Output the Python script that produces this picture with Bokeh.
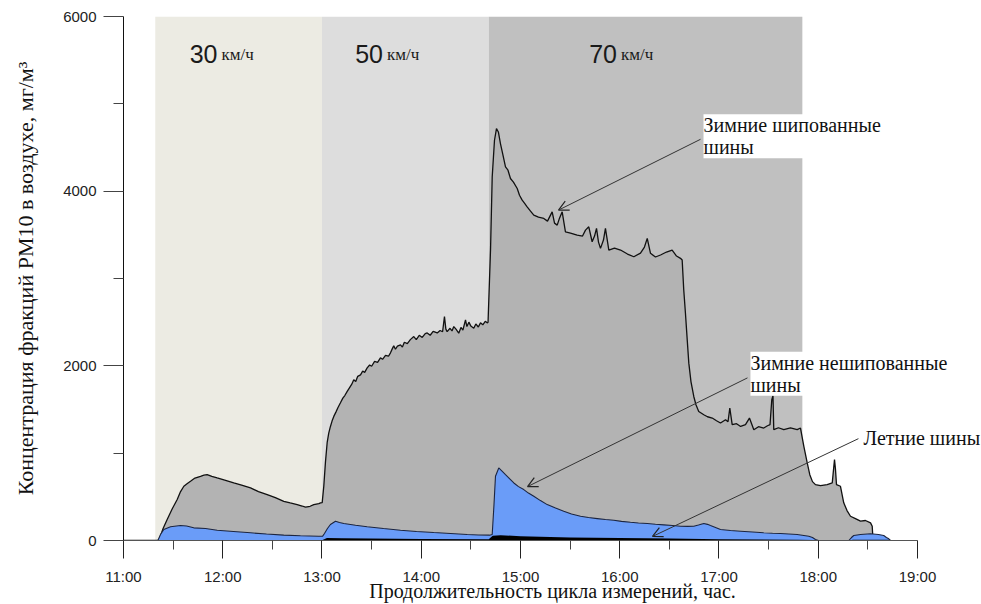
from bokeh.plotting import figure
from bokeh.models import (Range1d, FixedTicker, Label, Arrow, OpenHead, ColumnDataSource)
from bokeh.embed import file_html
from bokeh.resources import INLINE

# ---------------- data (time in decimal hours, concentration) ----------------
stud_t = [11.0, 11.356, 11.40, 11.440, 11.49, 11.541, 11.575, 11.608, 11.64, 11.675, 11.72, 11.776,
          11.81, 11.843, 11.89, 11.944, 12.02, 12.111, 12.19, 12.280, 12.36, 12.448, 12.53, 12.615,
          12.68, 12.750, 12.80, 12.834, 12.88, 12.917, 12.968, 12.985,
          13.002, 13.018, 13.035, 13.052, 13.068, 13.085, 13.102, 13.119, 13.14, 13.16, 13.186,
          13.21, 13.23, 13.254, 13.275, 13.30, 13.320, 13.34, 13.36, 13.388, 13.41, 13.43, 13.455,
          13.48, 13.50, 13.53, 13.56, 13.589, 13.61, 13.64, 13.67, 13.690, 13.71, 13.723, 13.74,
          13.76, 13.791, 13.81, 13.83, 13.86, 13.89, 13.925, 13.95, 13.98, 14.01, 14.04, 14.060,
          14.09, 14.12, 14.161, 14.19, 14.215, 14.234, 14.248, 14.261, 14.29, 14.31, 14.328, 14.35,
          14.378, 14.40, 14.42, 14.446, 14.46, 14.48, 14.50, 14.529, 14.55, 14.575, 14.597, 14.62,
          14.645, 14.664, 14.673,
          14.698, 14.715, 14.738, 14.758, 14.778, 14.798, 14.824, 14.849, 14.874, 14.899, 14.929,
          14.967, 14.990, 15.017, 15.040, 15.067, 15.101, 15.134, 15.181, 15.235, 15.272, 15.319,
          15.343, 15.370, 15.393, 15.420, 15.453, 15.504, 15.571, 15.625, 15.655, 15.688, 15.722,
          15.746, 15.766, 15.786, 15.806, 15.836, 15.856, 15.890, 15.947, 16.008, 16.078, 16.142,
          16.209, 16.249, 16.277, 16.310, 16.360, 16.411, 16.471, 16.528, 16.572, 16.612, 16.629,
          16.645, 16.662, 16.680, 16.696, 16.718, 16.746, 16.768, 16.796, 16.847, 16.884, 16.932,
          16.975, 17.015, 17.066, 17.091, 17.109, 17.133, 17.177, 17.218, 17.267, 17.307, 17.351,
          17.398, 17.451, 17.489, 17.514, 17.532, 17.544, 17.552, 17.599, 17.653, 17.720, 17.788,
          17.821, 17.855, 17.889, 17.915, 17.942, 17.972, 18.023, 18.090, 18.141, 18.154, 18.164,
          18.174, 18.184, 18.224, 18.257, 18.290, 18.325, 18.375, 18.426, 18.476, 18.527, 18.544,
          18.552]
stud_v = [0, 0, 140, 240, 360, 469, 560, 621, 650, 678, 715, 735,
          748, 754, 735, 716, 690, 659, 635, 602, 560, 526, 490, 449,
          430, 411, 395, 381, 392, 411, 423, 431,
          434, 621, 900, 1120, 1230, 1306, 1370, 1421, 1470, 1520, 1577,
          1630, 1660, 1707, 1745, 1790, 1840, 1820, 1880, 1897, 1940, 1925, 1977,
          2010, 1995, 2050, 2040, 2092, 2075, 2120, 2110, 2149, 2200, 2229, 2190,
          2225, 2240, 2215, 2270, 2255, 2300, 2335, 2300, 2350, 2325, 2370, 2377,
          2350, 2395, 2377, 2405, 2390, 2564, 2420, 2392, 2430, 2400, 2449, 2420,
          2374, 2440, 2410, 2526, 2450, 2500, 2455, 2431, 2480, 2445, 2492, 2470,
          2510, 2492, 2500,
          3326, 4163, 4583, 4717, 4674, 4545, 4411, 4278, 4240, 4145, 4103,
          4031, 3954, 3897, 3863, 3821, 3771, 3726, 3703, 3688, 3657, 3763,
          3634, 3611, 3691, 3763, 3535, 3520, 3497, 3486, 3554, 3592, 3421,
          3486, 3574, 3417, 3345, 3440, 3574, 3326, 3349, 3326, 3280, 3249,
          3291, 3360, 3459, 3288, 3246, 3269, 3303, 3326, 3257, 3231, 3211,
          2869, 2602, 2297, 2031, 1817, 1649, 1554, 1478, 1440, 1417, 1402,
          1371, 1345, 1383, 1360, 1517, 1326, 1337, 1306, 1326, 1402, 1269,
          1303, 1288, 1314, 1326, 1611, 1657, 1269, 1291, 1269, 1291, 1269,
          1288, 1078, 888, 754, 674, 640, 629, 640, 659, 811, 926,
          811, 640, 621, 431, 343, 278, 251, 221, 229, 202, 163,
          0]

nonstud_t = [11.0, 11.346, 11.373, 11.406, 11.474, 11.574, 11.635, 11.708, 11.826, 11.944, 12.108,
             12.280, 12.441, 12.615, 12.783, 12.965, 13.005, 13.025, 13.055, 13.085, 13.136, 13.176,
             13.220, 13.338, 13.455, 13.620, 13.791, 13.952, 14.126, 14.295, 14.463, 14.577, 14.688,
             14.715, 14.733, 14.748, 14.781, 14.809, 14.849, 14.889, 14.933, 14.980, 15.033, 15.080,
             15.134, 15.201, 15.269, 15.353, 15.436, 15.514, 15.605, 15.685, 15.773, 15.856, 15.940,
             16.018, 16.108, 16.189, 16.277, 16.360, 16.444, 16.532, 16.612, 16.683, 16.746, 16.793,
             16.847, 16.884, 16.914, 16.965, 17.015, 17.116, 17.218, 17.339, 17.451, 17.539, 17.620,
             17.788, 17.905, 17.942, 17.972, 18.003, 18.308, 18.335, 18.358, 18.426, 18.527, 18.607,
             18.660, 18.687, 18.711, 18.728, 18.80]
nonstud_v = [0, 0, 69, 126, 157, 171, 166, 145, 137, 118, 103,
             88, 74, 61, 54, 48, 48, 80, 137, 183, 221, 206,
             194, 175, 157, 137, 118, 103, 91, 80, 69, 63, 61,
             69, 411, 735, 831, 800, 754, 709, 659, 617, 583, 543,
             506, 457, 411, 371, 335, 303, 278, 263, 251, 240, 232,
             219, 209, 201, 194, 186, 179, 171, 163, 162, 163, 177,
             194, 185, 171, 149, 126, 114, 106, 97, 88, 83, 80,
             69, 49, 34, 11, 0, 0, 34, 57, 69, 77, 69,
             57, 34, 19, 0, 0]

summer_t = [11.0, 11.35, 11.40, 12.90, 13.00, 13.05, 13.20, 14.00, 14.68, 14.72, 14.80, 15.00,
            15.50, 16.00, 16.50, 17.00, 17.80, 17.95, 18.00, 18.30, 18.35, 18.70, 18.80]
summer_v = [0, 0, 5, 4, 4, 30, 25, 18, 15, 55, 60, 50,
            35, 28, 22, 15, 10, 5, 0, 0, 8, 8, 0]

band_start = [11.32, 13.0, 14.68]
band_end = [13.0, 14.68, 17.84]
speeds = ["30", "50", "70"]
unit = "км/ч"
band_colors = ["#ECEBE3", "#DDDDDD", "#C0C0C0"]

x_ticks = [11, 12, 13, 14, 15, 16, 17, 18, 19]
x_minor = [11.5, 12.5, 13.5, 14.5, 15.5, 16.5, 17.5, 18.5]
x_labels = ["11:00", "12:00", "13:00", "14:00", "15:00", "16:00", "17:00", "18:00", "19:00"]
y_ticks = [0, 2000, 4000, 6000]
y_minor = [1000, 3000, 5000]

ann_texts = ["Зимние шипованные\nшины", "Зимние нешипованные\nшины", "Летние шины"]
# ---------------------------------------------------------------------------

p = figure(width=981, height=604, output_backend="svg", toolbar_location=None,
           x_range=Range1d(11, 19.645), y_range=Range1d(0, 6000),
           min_border_left=123, min_border_right=0, min_border_top=16, min_border_bottom=63)
p.outline_line_color = None
p.xgrid.visible = False
p.ygrid.visible = False
p.background_fill_color = "white"

# speed bands
bands = ColumnDataSource(dict(left=band_start, right=band_end, color=band_colors))
p.quad(left="left", right="right", bottom=0, top=6000, fill_color="color",
       line_color=None, source=bands)

# studded tires
p.varea(x=stud_t, y1=0, y2=stud_v, fill_color="#B3B3B3")
p.line(stud_t, stud_v, line_color="#111111", line_width=1.3)

# non-studded tires
p.varea(x=nonstud_t, y1=0, y2=nonstud_v, fill_color="#6A9CF8")
p.line(nonstud_t, nonstud_v, line_color="#1C2540", line_width=1.1)

# summer tires
p.varea(x=summer_t, y1=0, y2=summer_v, fill_color="#000000")

# speed labels
label_split = [11.967, 13.635, 15.992]
for s, xs in zip(speeds, label_split):
    p.add_layout(Label(x=xs, y=5570, text=s, text_align="right", text_baseline="alphabetic",
                       text_font="Liberation Sans", text_font_size="25px", text_color="#1a1a1a",
                       x_offset=-2))
    p.add_layout(Label(x=xs, y=5570, text=unit, text_align="left", text_baseline="alphabetic",
                       text_font="Liberation Serif", text_font_size="17px", text_color="#1a1a1a",
                       x_offset=2))

# annotations
ann_x = [16.844, 17.317, 18.456]
ann_y = [4880, 2160, 1300]
for txt, ax, ay, bg in zip(ann_texts, ann_x, ann_y, ["white", "white", None]):
    p.add_layout(Label(x=ax, y=ay, text=txt, text_align="left", text_baseline="top",
                       text_font="Liberation Serif", text_font_size="20px", text_color="#111111",
                       text_line_height=1.0,
                       background_fill_color=bg, background_fill_alpha=1.0))

arrow_from_x = [16.814, 17.287, 18.405]
arrow_from_y = [4594, 1862, 1166]
arrow_to_x = [15.383, 15.071, 16.33]
arrow_to_y = [3783, 617, 46]
for x0, y0, x1, y1 in zip(arrow_from_x, arrow_from_y, arrow_to_x, arrow_to_y):
    p.add_layout(Arrow(end=OpenHead(size=10, line_width=1.2, line_color="#222222"),
                       x_start=x0, y_start=y0, x_end=x1, y_end=y1,
                       line_color="#333333", line_width=1))

# axes
xa = p.xaxis[0]
xa.bounds = (11, 19)
xa.ticker = FixedTicker(ticks=x_ticks, minor_ticks=x_minor)
xa.major_label_overrides = {t: l for t, l in zip(x_ticks, x_labels)}
xa.major_tick_out = 18
xa.major_tick_in = 0
xa.minor_tick_out = 9
xa.minor_tick_in = 0
xa.axis_line_color = "#555555"
xa.major_tick_line_color = "#222222"
xa.minor_tick_line_color = "#444444"
xa.major_label_text_font = "Liberation Sans"
xa.major_label_text_font_size = "15px"
xa.major_label_text_color = "#222222"
xa.major_label_standoff = 9
xa.axis_label = "Продолжительность цикла измерений, час."
xa.axis_label_text_font = "Liberation Serif"
xa.axis_label_text_font_size = "20px"
xa.axis_label_text_font_style = "normal"
xa.axis_label_text_color = "#111111"
xa.axis_label_standoff = -8

ya = p.yaxis[0]
ya.ticker = FixedTicker(ticks=y_ticks, minor_ticks=y_minor)
ya.major_tick_out = 20
ya.major_tick_in = 0
ya.minor_tick_out = 10
ya.minor_tick_in = 0
ya.axis_line_color = "#111111"
ya.major_tick_line_color = "#444444"
ya.minor_tick_line_color = "#444444"
ya.major_label_text_font = "Liberation Sans"
ya.major_label_text_font_size = "15px"
ya.major_label_text_color = "#222222"
ya.major_label_standoff = 7
ya.axis_label = "Концентрация фракций PM10 в воздухе, мг/м³"
ya.axis_label_text_font = "Liberation Serif"
ya.axis_label_text_font_size = "22px"
ya.axis_label_text_font_style = "normal"
ya.axis_label_text_color = "#111111"
ya.axis_label_standoff = 22

open("out.html", "w").write(file_html(p, INLINE))
